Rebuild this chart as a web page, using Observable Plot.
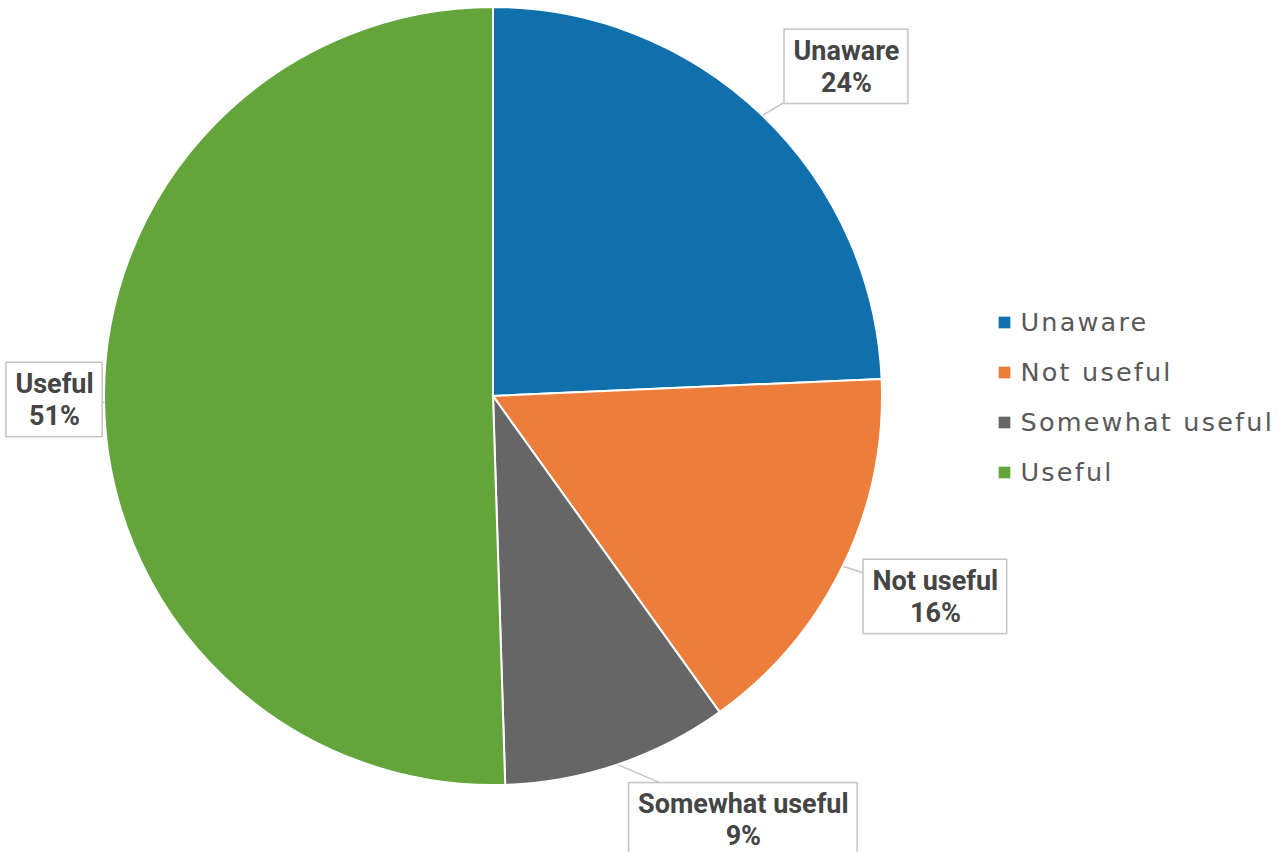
<!DOCTYPE html>
<html>
<head>
<meta charset="utf-8">
<script src="https://cdn.jsdelivr.net/npm/d3@7"></script>
<script src="https://cdn.jsdelivr.net/npm/@observablehq/plot@0.6"></script>
<style>
  html, body { margin: 0; padding: 0; background: #fff; }
  #chart { position: relative; width: 1281px; height: 852px; overflow: hidden; }
</style>
</head>
<body>
<div id="chart"></div>
<script>
// ---- data (shares; labels show the rounded %) ----
const categories = ["Unaware", "Not useful", "Somewhat useful", "Useful"];
const values = [24.3, 15.8, 9.4, 50.5];
const colors = ["#1070AB", "#ED7D3A", "#666666", "#63A53B"];

// ---- layout / style (pixels) ----
const W = 1281, H = 852;
const CX = 493, CY = 396, R = 389;
// offset of each label box centre from the slice edge point at mid-angle
const labelOffset = {
  "Unaware": [84, -50],
  "Not useful": [92, 29],
  "Somewhat useful": [125, 54],
  "Useful": [-50, -4]
};
const legendX = 1004, legendTextX = 1020, legendY0 = 322, legendStep = 50;

const rows = categories.map((c, i) => ({category: c, value: values[i]}));
const arcs = d3.pie().sort(null).value(d => d.value)(rows);
const slices = arcs.map(a => {
  const mid = (a.startAngle + a.endAngle) / 2;
  const ex = CX + R * Math.sin(mid), ey = CY - R * Math.cos(mid);
  const [ox, oy] = labelOffset[a.data.category];
  return {
    category: a.data.category,
    value: a.data.value,
    startAngle: a.startAngle,
    endAngle: a.endAngle,
    ex, ey,
    lx: ex + ox, ly: ey + oy,
    label: `${a.data.category}\n${Math.round(a.data.value)}%`
  };
});
const legendRows = categories.map((c, i) => ({category: c, y: legendY0 + i * legendStep}));

// custom pie mark drawn through Plot's x/y/color scales
function pieMark(index, scales) {
  const g = d3.create("svg:g").attr("aria-label", "pie");
  const cx = scales.x(CX), cy = scales.y(CY);
  const r = scales.x(CX + R) - scales.x(CX);
  const arc = d3.arc().innerRadius(0).outerRadius(r);
  g.selectAll("path")
    .data(slices)
    .join("path")
    .attr("transform", `translate(${cx},${cy})`)
    .attr("d", d => arc(d))
    .attr("fill", d => scales.color(d.category))
    .attr("stroke", "#ffffff")
    .attr("stroke-width", 2)
    .attr("stroke-linejoin", "round");
  return g.node();
}

const chart = Plot.plot({
  width: W,
  height: H,
  margin: 0,
  x: {domain: [0, W], range: [0, W], axis: null},
  y: {domain: [0, H], range: [0, H], axis: null},
  color: {domain: categories, range: colors},
  style: {background: "#ffffff"},
  marks: [
    pieMark,
    Plot.link(slices, {
      x1: "ex", y1: "ey", x2: "lx", y2: "ly",
      stroke: "#c4c4c4", strokeWidth: 1.5
    }),
    Plot.text(slices, {
      x: "lx", y: "ly", text: "label",
      fontFamily: "Roboto", fontWeight: 700, fontSize: 27,
      lineHeight: 1.2, lineAnchor: "middle",
      textAnchor: "middle", fill: "#454545"
    }),
    Plot.dot(legendRows, {
      x: () => legendX, y: "y", fill: "category",
      symbol: "square", r: 6.6, stroke: null
    }),
    Plot.text(legendRows, {
      x: () => legendTextX, y: "y", text: "category",
      textAnchor: "start", lineAnchor: "middle",
      fontFamily: "DejaVu Sans", fontSize: 25.5, fill: "#595959"
    })
  ]
});

document.getElementById("chart").append(chart);

const textGroups = chart.querySelectorAll('g[aria-label="text"]');
const labelG = textGroups[0];
const legendG = textGroups[1];

// legend letter spacing to mimic the wide original face
if (legendG) d3.select(legendG).selectAll("text").attr("letter-spacing", "2.2px");

// label boxes: white rectangles with grey borders behind each label
if (labelG) {
  const boxes = d3.create("svg:g").attr("aria-label", "label-boxes");
  labelG.querySelectorAll("text").forEach(t => {
    const b = t.getBBox();
    const tr = t.getAttribute("transform");
    const padX = 9, padY = 5;
    boxes.append("rect")
      .attr("transform", tr)
      .attr("x", b.x - padX).attr("y", b.y - padY)
      .attr("width", b.width + 2 * padX).attr("height", b.height + 2 * padY)
      .attr("fill", "#ffffff").attr("stroke", "#c4c4c4").attr("stroke-width", 1.5);
  });
  labelG.parentNode.insertBefore(boxes.node(), labelG);
}
</script>
</body>
</html>
